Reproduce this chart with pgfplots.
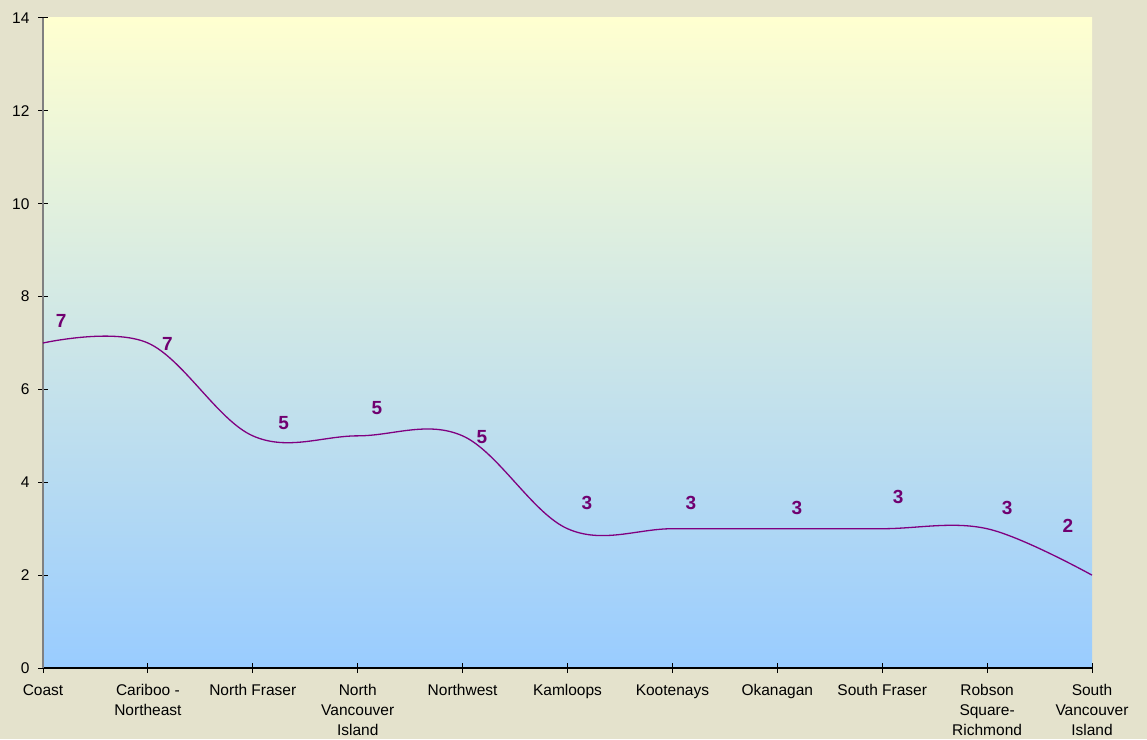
\documentclass[border=0pt]{standalone}
\usepackage{pgfplots}
\pgfplotsset{compat=1.18}
\usepackage{fontspec}
\setmainfont{Liberation Sans}
\definecolor{bgbeige}{RGB}{228,226,204}
\definecolor{topyel}{RGB}{255,255,208}
\definecolor{botblue}{RGB}{153,204,255}
\definecolor{lineclr}{RGB}{128,0,128}
\definecolor{labclr}{RGB}{112,0,112}
\begin{document}
\begin{tikzpicture}[x=1pt,y=1pt]
\useasboundingbox (0,0) rectangle (1147,739);
\fill[bgbeige] (0,0) rectangle (1147,739);
\begin{axis}[
  at={(43pt,71pt)}, anchor=south west,
  scale only axis, width=1049pt, height=650pt,
  xmin=0, xmax=10, ymin=0, ymax=14,
  axis x line*=bottom, axis y line*=left,
  x axis line style={black, line width=1.2pt},
  y axis line style={gray, line width=2pt},
  xtick={0,...,10}, ytick={0,2,...,14},
  xticklabels={Coast, {Cariboo -\\Northeast}, North Fraser, {North\\Vancouver\\Island}, Northwest, Kamloops, Kootenays, Okanagan, South Fraser, {Robson\\Square-\\Richmond}, {South\\Vancouver\\Island}},
  xticklabel style={align=center, font=\fontsize{15.5}{20}\selectfont, anchor=north, yshift=-8pt},
  yticklabel style={font=\fontsize{15.5}{18}\selectfont, xshift=-5pt},
  /pgf/number format/assume math mode=true,
  tick align=center, major tick length=10pt,
  tick style={black, line width=1pt},
  axis background/.style={shade, top color=topyel, bottom color=botblue},
  clip=false,
]
\addplot[lineclr, line width=1.3pt, smooth, tension=0.6, mark=none] coordinates {
(0,7) (1,7) (2,5) (3,5) (4,5) (5,3) (6,3) (7,3) (8,3) (9,3) (10,2)};
\addplot[draw=none, mark=none, nodes near coords, point meta=explicit symbolic,
  every node near coord/.style={anchor=center, text=labclr, font=\fontsize{19}{20}\selectfont\bfseries}]
  table[meta=lab] {
x y lab
0.172 7.47 7
1.187 6.98 7
2.293 5.277 5
3.184 5.60 5
4.185 4.975 5
5.186 3.554 3
6.177 3.554 3
7.188 3.446 3
8.151 3.683 3
9.190 3.446 3
9.771 3.058 2
};
\end{axis}
\end{tikzpicture}
\end{document}
